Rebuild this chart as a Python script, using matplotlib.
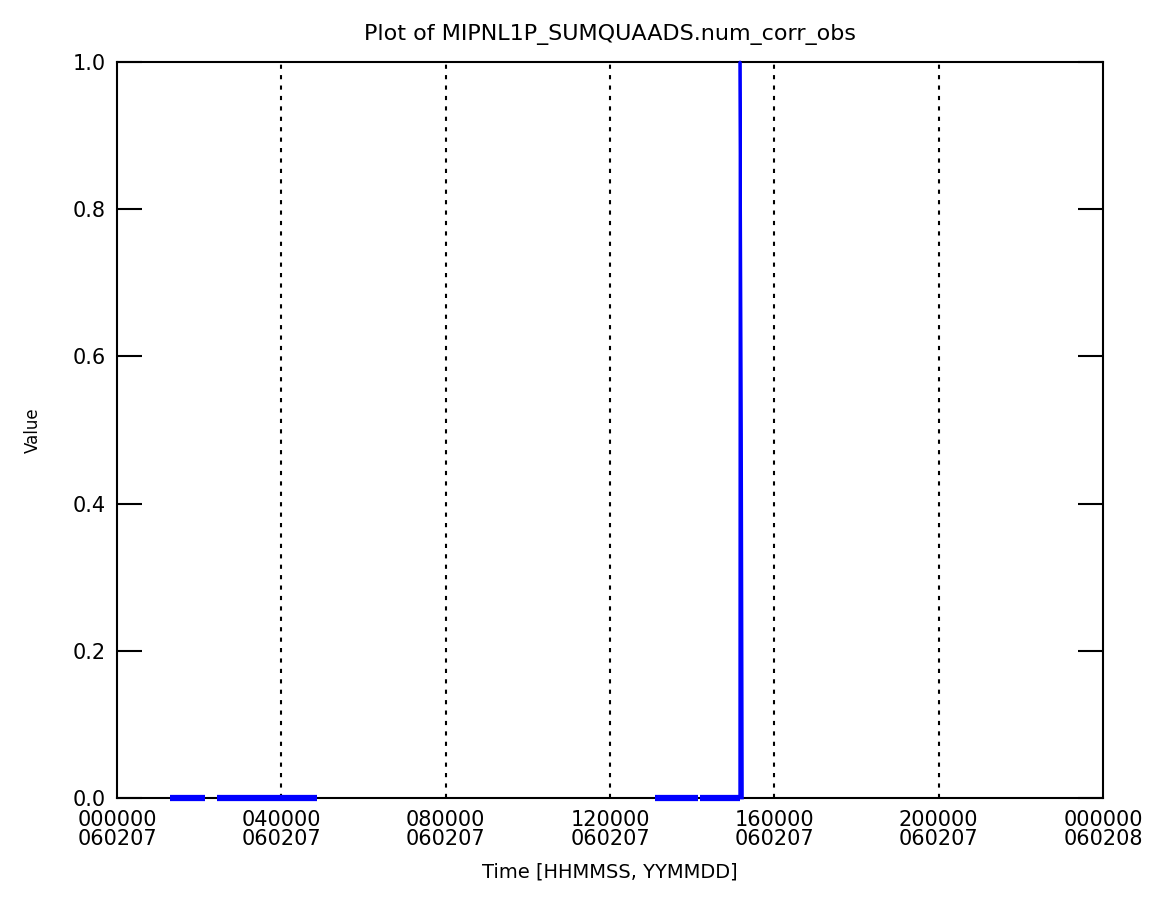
import numpy as np
import matplotlib.pyplot as plt

# Observation times (seconds after 000000 on 060207) and values
seg_times = [
    [4650, 7700],
    [8420, 8430],
    [8750, 17550],
    [47150, 50900],
    [51100, 54550],
]
spike_times = [54560, 54590, 54720, 54800]
spike_vals = [0.0, 1.0, 0.5, 0.0]

tick_secs = [0, 14400, 28800, 43200, 57600, 72000, 86400]
tick_labels = ["000000\n060207", "040000\n060207", "080000\n060207",
               "120000\n060207", "160000\n060207", "200000\n060207",
               "000000\n060208"]

fig = plt.figure(figsize=(11.6, 9.22), dpi=100)
ax = fig.add_axes([0.1009, 0.1345, 0.85, 0.7983])

for t in seg_times:
    ax.plot(t, [0.0] * len(t), color='blue', lw=4.5, solid_capstyle='butt',
            zorder=3, clip_on=False)
ax.plot(spike_times, spike_vals, color='blue', lw=2, zorder=3, clip_on=False)

for t in tick_secs[1:-1]:
    ax.axvline(t, color='black', ls=(0, (2, 3)), lw=1.5, zorder=1)

ax.set_xlim(0, 86400)
ax.set_ylim(0, 1.0)
ax.set_xticks(tick_secs)
ax.set_xticklabels(tick_labels, fontsize=15, linespacing=0.9)
ax.set_yticks([0.0, 0.2, 0.4, 0.6, 0.8, 1.0])
ax.set_yticklabels(["0.0", "0.2", "0.4", "0.6", "0.8", "1.0"], fontsize=15)
ax.tick_params(axis='x', length=0, pad=9)
ax.tick_params(axis='y', direction='in', length=18, width=1.5, right=True, pad=8)
for s in ax.spines.values():
    s.set_linewidth(1.5)

ax.set_title("Plot of MIPNL1P_SUMQUAADS.num_corr_obs", fontsize=16, pad=16)
ax.set_xlabel("Time [HHMMSS, YYMMDD]", fontsize=14, labelpad=10)
ax.set_ylabel("Value", fontsize=12, labelpad=22)

fig.savefig("out.png", dpi=100)
